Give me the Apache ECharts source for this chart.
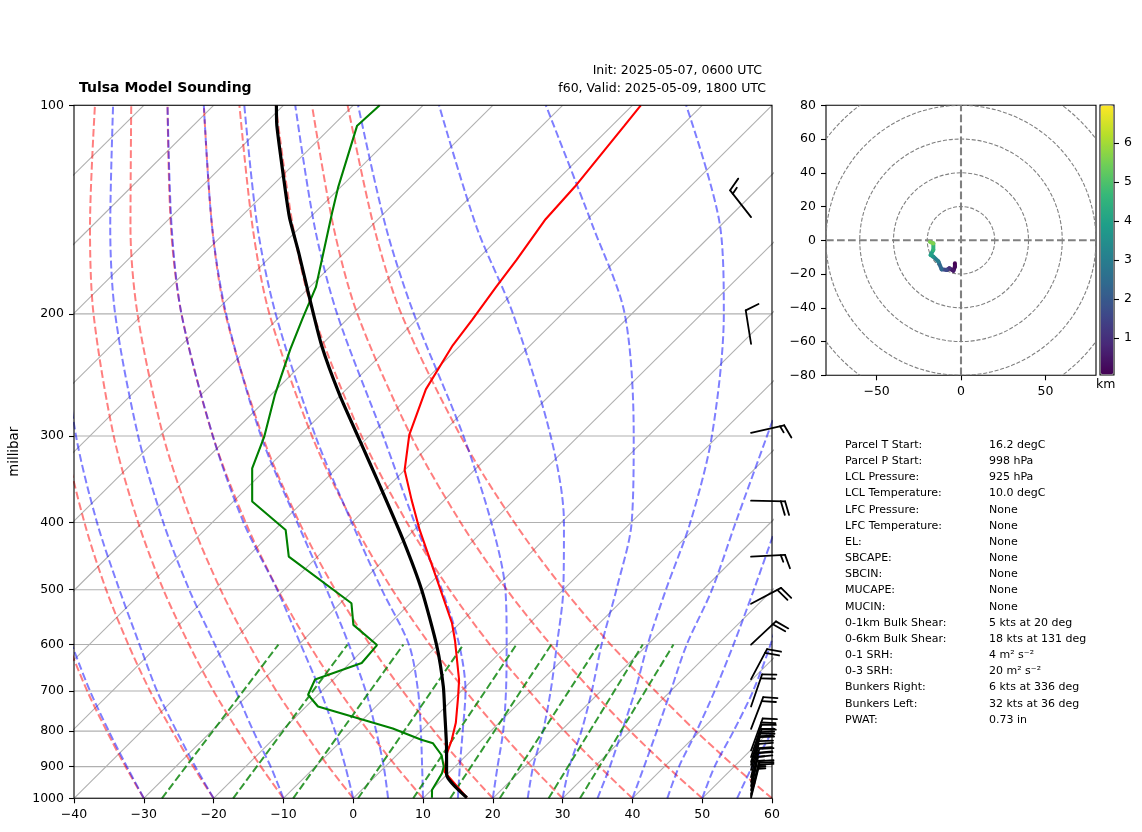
<!DOCTYPE html>
<html>
<head>
<meta charset="utf-8">
<title>Tulsa Model Sounding</title>
<script src="https://cdn.jsdelivr.net/npm/echarts@6/dist/echarts.min.js"></script>
<style>
html, body { margin: 0; padding: 0; background: #fff; }
#box { width: 1142px; height: 832px; }
</style>
</head>
<body>
<div id="box"></div>
<script>
// sounding: pressure (hPa) and temperature (degC)
var tempP = [998, 915, 860, 824, 778, 714, 675, 593, 559, 500, 410, 371, 336, 299, 257, 222, 204, 183, 167, 146, 131, 107, 100];
var tempT = [16.2, 9.2, 6.9, 5.7, 3.8, 0.4, -1.9, -8.1, -11.1, -17.6, -29.2, -34.7, -40, -44.4, -48.6, -51.1, -52, -53.3, -54.3, -56, -56.5, -58.2, -58.8];
var dewP = [998, 973, 920, 900, 866, 833, 823, 793, 737, 709, 674, 638, 601, 562, 523, 448, 410, 373, 334, 301, 262, 225, 203, 183, 143, 131, 107, 100];
var dewT = [11.2, 10.1, 9.1, 8.4, 6.4, 3.5, 1.3, -4.4, -18.3, -21.4, -22.6, -18.3, -18.7, -25, -28.4, -44.1, -48.4, -57.3, -62.1, -64.9, -69.4, -73.8, -76.5, -79.1, -87.5, -90.4, -96.5, -96.2];
var parcelP = [998, 925, 842, 753, 690, 604, 500, 424, 355, 305, 262, 222, 185, 163, 145, 127, 107, 100];
var parcelT = [16.2, 10, 5.9, 0.8, -3.2, -9.9, -20.3, -30.1, -41.1, -50.6, -60.1, -69.9, -79.8, -86.6, -93, -99.6, -108, -111];

// wind barbs: pressure, speed (kts), direction the wind comes from (deg)
var barbP = [145, 221, 297, 372, 448, 524, 600, 673, 737, 794, 853, 872, 886, 895, 910, 932, 947, 960, 973, 986, 992, 998];
var barbSpeed = [15, 10, 15, 20, 15, 20, 20, 20, 20, 20, 20, 20, 20, 20, 20, 20, 20, 15, 15, 15, 15, 15];
var barbDir = [322, 351, 77, 91, 87, 62, 47, 28, 19, 21, 20, 18, 18, 15, 15, 13, 14, 12, 12, 14, 14, 14];

// hodograph
var hodoU = [-3.6, -3.6, -4.5, -6.9, -8.5, -11.5, -13.4, -16.4, -18, -16.4, -16.4, -18.4];
var hodoV = [-13.6, -15.6, -18, -16.6, -17.6, -17.2, -12.6, -9.7, -8.7, -5.7, -1.8, -1];
var hodoKm = [0.05, 0.2, 0.5, 1, 1.6, 2.4, 3, 3.6, 4, 4.6, 5.6, 6.5];
var hodoRings = [20, 40, 60, 80, 100];

// axis ticks
var xTicks = [-40, -30, -20, -10, 0, 10, 20, 30, 40, 50, 60];
var pressureTicks = [100, 200, 300, 400, 500, 600, 700, 800, 900, 1000];
var isotherms = [-130, -120, -110, -100, -90, -80, -70, -60, -50, -40, -30, -20, -10, 0, 10, 20, 30, 40, 50];
var hodoXTicks = [-50, 0, 50];
var kmTicks = [1, 2, 3, 4, 5, 6];

// background curves, temperature at each of these pressures
var curveP = [1000, 900, 800, 700, 600, 500, 400, 300, 200, 150, 100];
var dryAdiabats = [
    [-30, -37.2, -45, -53.6, -63, -73.7, -86],
    [-20, -27.5, -35.6, -44.6, -54.4, -65.5, -78.3, -93.7, -113.4],
    [-10, -17.8, -26.2, -35.5, -45.7, -57.3, -70.6, -86.6, -107.1, -120.1, -137],
    [0, -8.1, -16.8, -26.5, -37.1, -49.1, -62.9, -79.5, -100.8, -114.3, -131.8],
    [10, 1.6, -7.5, -17.5, -28.5, -40.9, -55.2, -72.4, -94.5, -108.5, -126.6],
    [20, 11.3, 1.9, -8.4, -19.8, -32.7, -47.5, -65.3, -88.2, -102.6, -121.4],
    [30, 21, 11.3, 0.6, -11.2, -24.5, -39.8, -58.2, -81.9, -96.8, -116.3],
    [40, 30.7, 20.6, 9.7, -2.6, -16.3, -32.1, -51.1, -75.6, -91, -111.1],
    [50, 40.4, 30, 18.7, 6.1, -8.1, -24.4, -44, -69.3, -85.2, -105.9],
    [60, 50.1, 39.4, 27.8, 14.7, 0.1, -16.7, -36.9, -63, -79.4, -100.8]
];
var moistAdiabats = [
    [-30, -37, -44.7, -53.2, -62.5],
    [-20, -27.2, -35, -43.6, -52.8, -63.6, -76.5, -92, -112],
    [-10, -16.4, -24, -32.3, -42, -53.6, -67, -83.1, -104, -117.2, -134.4],
    [0, -5.7, -12.3, -20.2, -29.7, -41, -55.5, -72.4, -94.5, -108.4, -126.6],
    [5, -0.2, -6.4, -13.7, -22.8, -33.9, -47.8, -65.5, -88.1, -102.6, -121.4],
    [10, 5.3, 0, -6.2, -14.2, -26, -40, -57.7, -81, -96.1, -115.6],
    [15, 10.7, 6, 0.6, -7, -17.4, -31, -48, -72.2, -87.9, -108.3],
    [20, 16.1, 11.8, 6.4, -0.2, -8.3, -20, -36.5, -61.2, -77.7, -99.3],
    [25, 21.2, 17.5, 12.8, 7, 0, -9.6, -24, -47, -64.7, -87.7],
    [30, 26.4, 23, 18.7, 13.4, 7.6, 0.1, -12.1, -31, -48, -72.4],
    [35, 32.2, 28.8, 24.9, 20, 14.7, 8.5, -0.9, -16.8, -29.8, -52.3],
    [40, 37.1, 33.8, 30, 25.6, 21.3, 15, 7, -4.3],
    [45, 42.1, 39.5, 36.3, 32.3, 27.3, 21],
    [50, 47.2, 44.8, 41.8, 37.6, 32],
    [55, 52.6, 50.3, 46.5]
];
// mixing ratio lines run from 1000 to 600 hPa
var mixingP = [1000, 600];
var mixingBottom = [-27.4, -17.2, -8.6, 0.7, 8.6, 13.9, 21, 28, 32.5];
var mixingTop = [-32.9, -23, -15, -6.4, 1.2, 6.2, 13, 19.3, 23.7];

// text block under the hodograph
var tableLabels = ['Parcel T Start:', 'Parcel P Start:', 'LCL Pressure:', 'LCL Temperature:', 'LFC Pressure:', 'LFC Temperature:', 'EL:', 'SBCAPE:', 'SBCIN:', 'MUCAPE:', 'MUCIN:', '0-1km Bulk Shear:', '0-6km Bulk Shear:', '0-1 SRH:', '0-3 SRH:', 'Bunkers Right:', 'Bunkers Left:', 'PWAT:'];
var tableValues = ['16.2 degC', '998 hPa', '925 hPa', '10.0 degC', 'None', 'None', 'None', 'None', 'None', 'None', 'None', '5 kts at 20 deg', '18 kts at 131 deg', '4 m\u00b2 s\u207b\u00b2', '20 m\u00b2 s\u207b\u00b2', '6 kts at 336 deg', '32 kts at 36 deg', '0.73 in'];

var FONT = '"DejaVu Sans"';
var SKEW = 100;  // degrees per decade of pressure
var BARB_X = 57;
var BARB_LEN = 34;

// y axis is log10(p), x axis is the skewed temperature
function yOf(p) {
    return Math.log10(p);
}
function xOf(t, p) {
    return t + SKEW * (3 - yOf(p));
}
function minusSign(v) {
    return String(v).replace('-', '\u2212');
}
function profile(ps, ts) {
    return ts.map(function (t, i) {
        return [xOf(t, ps[i]), yOf(ps[i])];
    });
}
function curveSeries(data, color, width, dash, smooth, z) {
    return {
        type: 'line',
        data: data,
        xAxisIndex: 0,
        yAxisIndex: 0,
        symbol: 'none',
        silent: true,
        smooth: smooth,
        z: z,
        lineStyle: { color: color, width: width, type: dash ? [7.7, 3.3] : 'solid' }
    };
}

var series = [];
isotherms.forEach(function (t) {
    series.push(curveSeries(profile([1000, 100], [t, t]), '#b0b0b0', 1.1, false, false, 2));
});
pressureTicks.forEach(function (p) {
    series.push(curveSeries([[-40, yOf(p)], [60, yOf(p)]], '#b0b0b0', 1.1, false, false, 2));
});
dryAdiabats.forEach(function (ts) {
    series.push(curveSeries(profile(curveP, ts), 'rgba(255,0,0,0.5)', 2, true, 0.3, 3));
});
moistAdiabats.forEach(function (ts) {
    series.push(curveSeries(profile(curveP, ts), 'rgba(0,0,255,0.5)', 2, true, 0.3, 3));
});
mixingBottom.forEach(function (t, i) {
    series.push(curveSeries(profile(mixingP, [t, mixingTop[i]]), 'rgba(0,128,0,0.8)', 2, true, false, 3));
});
series.push(curveSeries(profile(tempP, tempT), '#ff0000', 2.1, false, false, 5));
series.push(curveSeries(profile(dewP, dewT), '#008000', 2.1, false, false, 5));
series.push(curveSeries(profile(parcelP, parcelT), '#000', 3.2, false, 0.2, 6));

// wind barbs, staff from the level towards where the wind comes from
series.push({
    type: 'custom',
    xAxisIndex: 0,
    yAxisIndex: 0,
    silent: true,
    z: 7,
    data: barbP.map(function (p, i) {
        return [BARB_X, yOf(p), barbSpeed[i], barbDir[i]];
    }),
    renderItem: function (params, api) {
        var root = api.coord([api.value(0), api.value(1)]);
        var ang = api.value(3) * Math.PI / 180;
        var ux = Math.sin(ang), uy = -Math.cos(ang);   // along the staff
        var vx = Math.cos(ang), vy = Math.sin(ang);    // to the right of it
        var speed = api.value(2);
        var tip = [root[0] + ux * BARB_LEN, root[1] + uy * BARB_LEN];
        var kids = [];
        function seg(x1, y1, x2, y2) {
            kids.push({
                type: 'line',
                shape: { x1: x1, y1: y1, x2: x2, y2: y2 },
                style: { stroke: '#000', lineWidth: 1.8, lineCap: 'round' }
            });
        }
        seg(root[0], root[1], tip[0], tip[1]);
        var off = 0;
        var full = Math.floor(speed / 10);
        for (var k = 0; k < full; k++) {
            var bx = tip[0] - ux * off, by = tip[1] - uy * off;
            seg(bx, by, bx + vx * 0.4 * BARB_LEN + ux * 0.125 * BARB_LEN, by + vy * 0.4 * BARB_LEN + uy * 0.125 * BARB_LEN);
            off += 0.125 * BARB_LEN;
        }
        if (speed % 10 >= 5) {
            var hx = tip[0] - ux * off, hy = tip[1] - uy * off;
            seg(hx, hy, hx + vx * 0.2 * BARB_LEN + ux * 0.0625 * BARB_LEN, hy + vy * 0.2 * BARB_LEN + uy * 0.0625 * BARB_LEN);
        }
        return { type: 'group', children: kids };
    }
});

// hodograph rings and cross
series.push({
    type: 'custom',
    xAxisIndex: 1,
    yAxisIndex: 1,
    silent: true,
    z: 2,
    data: hodoRings.map(function (r) { return [r]; }),
    encode: { x: 0 },
    renderItem: function (params, api) {
        var c = api.coord([0, 0]);
        return {
            type: 'circle',
            shape: { cx: c[0], cy: c[1], r: api.size([api.value(0), 0])[0] },
            style: { fill: 'none', stroke: '#808080', lineWidth: 1.1, lineDash: [4, 1.8] },
            clipPath: {
                type: 'rect',
                shape: { x: params.coordSys.x, y: params.coordSys.y, width: params.coordSys.width, height: params.coordSys.height }
            }
        };
    }
});
[[[-80, 0], [80, 0]], [[0, -80], [0, 80]]].forEach(function (d) {
    series.push({
        type: 'line',
        data: d,
        xAxisIndex: 1,
        yAxisIndex: 1,
        symbol: 'none',
        silent: true,
        z: 2,
        lineStyle: { color: '#808080', width: 2.1, type: [7.7, 3.3] }
    });
});

// hodograph trace, one segment per data row so the colour can follow height
var hodoIndex = series.length;
series.push({
    type: 'custom',
    xAxisIndex: 1,
    yAxisIndex: 1,
    silent: true,
    z: 5,
    encode: { x: 0, y: 1 },
    data: hodoU.slice(0, -1).map(function (u, i) {
        return [u, hodoV[i], hodoKm[i], hodoU[i + 1], hodoV[i + 1]];
    }),
    renderItem: function (params, api) {
        var a = api.coord([api.value(0), api.value(1)]);
        var b = api.coord([api.value(3), api.value(4)]);
        return {
            type: 'line',
            shape: { x1: a[0], y1: a[1], x2: b[0], y2: b[1] },
            style: { stroke: api.visual('color'), lineWidth: 4, lineCap: 'round' }
        };
    }
});

var graphics = [{
    type: 'text',
    left: 1096,
    top: 378,
    style: { text: 'km', fill: '#000', font: '12.5px ' + FONT }
}];
tableLabels.forEach(function (label, i) {
    var top = 439.5 + i * 16.17;
    graphics.push({ type: 'text', left: 845, top: top, style: { text: label, fill: '#000', font: '11px ' + FONT } });
    graphics.push({ type: 'text', left: 989, top: top, style: { text: tableValues[i], fill: '#000', font: '11px ' + FONT } });
});

var tickText = { color: '#000', fontFamily: FONT, fontSize: 12.5, margin: 10 };

var option = {
    animation: false,
    backgroundColor: '#fff',
    title: [
        { text: 'Tulsa Model Sounding', left: 79, top: 81, padding: 0, textStyle: { fontFamily: FONT, fontSize: 14, fontWeight: 'bold', color: '#000' } },
        { text: 'Init: 2025-05-07, 0600 UTC', right: 380, top: 64, padding: 0, textStyle: { fontFamily: FONT, fontSize: 12.5, fontWeight: 'normal', color: '#000' } },
        { text: 'f60, Valid: 2025-05-09, 1800 UTC', right: 376, top: 82, padding: 0, textStyle: { fontFamily: FONT, fontSize: 12.5, fontWeight: 'normal', color: '#000' } }
    ],
    grid: [
        { left: 74, top: 105.3, width: 698, height: 693, show: true, borderColor: '#000', borderWidth: 1.1, z: 8 },
        { left: 826, top: 105.3, width: 270, height: 270, show: true, borderColor: '#000', borderWidth: 1.1 },
        { left: 1100, top: 105, width: 14, height: 270, show: true, borderColor: '#000', borderWidth: 1.1 }
    ],
    xAxis: [
        {
            type: 'value', gridIndex: 0, min: -40, max: 60, interval: 10,
            splitLine: { show: false }, axisLine: { show: false, onZero: false },
            axisTick: { show: true, length: 5, lineStyle: { color: '#000', width: 1.1 } },
            axisLabel: Object.assign({ formatter: minusSign, customValues: xTicks, showMinLabel: true, showMaxLabel: true }, tickText)
        },
        {
            type: 'value', gridIndex: 1, min: -80, max: 80,
            splitLine: { show: false }, axisLine: { show: false, onZero: false },
            axisTick: { show: true, length: 5, customValues: hodoXTicks, lineStyle: { color: '#000', width: 1.1 } },
            axisLabel: Object.assign({ formatter: minusSign, customValues: hodoXTicks }, tickText)
        },
        { type: 'value', gridIndex: 2, min: 0, max: 1, show: false }
    ],
    yAxis: [
        {
            type: 'value', gridIndex: 0, min: 2, max: 3, inverse: true,
            name: 'millibar', nameLocation: 'middle', nameGap: 47, nameRotate: 90,
            nameTextStyle: { color: '#000', fontFamily: FONT, fontSize: 13.3 },
            splitLine: { show: false }, axisLine: { show: false, onZero: false },
            axisTick: { show: true, length: 5, customValues: pressureTicks.map(yOf), lineStyle: { color: '#000', width: 1.1 } },
            axisLabel: Object.assign({
                customValues: pressureTicks.map(yOf),
                formatter: function (v) { return Math.round(Math.pow(10, v)); }
            }, tickText)
        },
        {
            type: 'value', gridIndex: 1, min: -80, max: 80, interval: 20,
            splitLine: { show: false }, axisLine: { show: false, onZero: false },
            axisTick: { show: true, length: 5, lineStyle: { color: '#000', width: 1.1 } },
            axisLabel: Object.assign({ formatter: minusSign }, tickText)
        },
        {
            type: 'value', gridIndex: 2, min: 0.05, max: 6.98, position: 'right',
            splitLine: { show: false }, axisLine: { show: false, onZero: false },
            axisTick: { show: true, length: 5, customValues: kmTicks, lineStyle: { color: '#000', width: 1.1 } },
            axisLabel: Object.assign({ customValues: kmTicks }, tickText)
        }
    ],
    visualMap: {
        type: 'continuous',
        seriesIndex: hodoIndex,
        dimension: 2,
        min: 0.05,
        max: 6.98,
        left: 1100.6,
        top: 105.6,
        padding: 0,
        itemWidth: 12.8,
        itemHeight: 268.8,
        calculable: false,
        hoverLink: false,
        inRange: { color: ['#440154', '#482878', '#3e4989', '#31688e', '#26828e', '#1f9e89', '#35b779', '#6ece58', '#b5de2b', '#fde725'] }
    },
    graphic: graphics,
    series: series
};

var myChart = echarts.init(document.getElementById('box'));
myChart.setOption(option);
</script>
</body>
</html>
